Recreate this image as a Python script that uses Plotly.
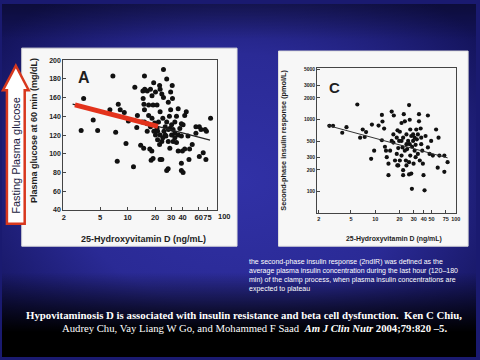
import base64
import numpy as np
import plotly.graph_objects as go

W, H = 480, 360

# ---------------- data: panel A (plasma glucose at 60 min) ----------------
a_vitd = [6.9, 3.3, 3.1, 4.2, 4.7, 6.4, 7.4, 7.9, 8.3, 7.7, 9.2, 10.2, 9.6, 11.6, 12, 12.8,
          12.6, 13.9, 14.5, 15.3, 14.7, 15.4, 16.4, 17.8, 18.5, 14.8, 15.1, 17, 19, 15.3, 17,
          15.3, 16.4, 17.8, 16.4, 17.5, 18.4, 18.1, 19, 24.7, 22.4, 23.7, 24.7, 26.8, 30.8,
          22.7, 21.8, 21, 20.2, 21.3, 22.4, 23.7, 25, 26.3, 27.9, 29, 26.8, 28.7, 29.6, 31,
          30.3, 31.5, 30.3, 32.9, 34.3, 31.5, 29, 28, 25.8, 24.3, 22.7, 23.7, 26.8, 27.8,
          35.8, 34.3, 32.9, 37.3, 38.8, 43.9, 42.2, 40.5, 38.8, 45.8, 35.8, 39.8, 42.2, 38.8,
          38.8, 40.5, 47.7, 47, 51, 56, 56, 63.6, 70.7, 73, 61, 67.3, 72, 81, 61, 19.4, 19.8,
          18.5, 21.3, 27.9, 29.6, 21, 24.3, 25.8, 22.7, 32.9, 35.8, 15, 22.7, 19.3, 20.2]
a_glucose = [183, 159, 125, 136, 125, 147, 123, 153, 147, 92, 144, 135, 111, 86, 171, 141,
             128, 109, 134, 183, 167, 169, 167, 169, 162, 159, 153, 152, 152, 147, 141,
             134, 132, 129, 124, 105, 103, 93, 95, 190, 173, 164, 160, 180, 173,
             145, 134, 127, 120, 115, 110, 113, 124, 119, 113, 106, 134, 140, 147, 159,
             131, 126, 120, 117, 112, 113, 127, 126, 120, 117, 94, 94, 82, 84,
             148, 140, 134, 127, 132, 145, 141, 131, 119, 119, 103, 103, 105, 90,
             82, 80, 105, 94, 110, 122, 129, 126, 126, 124, 97, 101, 94, 138, 129, 124, 133,
             138, 124, 155, 166, 152, 138, 129, 120, 122, 120, 106, 169, 176, 166]
# fitted line A (ends), red highlighted segment
a_fit_x = [2.5, 80]
a_fit_y = [153.0, 114.6]
a_red_x = [2.65, 21.5]
a_red_y = [152.3, 129.2]
a_xticks = [2, 5, 10, 20, 30, 40, 60, 75]
a_yticks = [40, 60, 80, 100, 120, 140, 160, 180, 200]

# ---------------- data: panel C (second-phase insulin response) ----------------
c_vitd = [2.7, 3.0, 3.9, 4.4, 6.0, 7.0, 6.5, 7.7, 7.4, 9.1, 8.9, 9.7, 11, 12.1, 12.3, 12.9,
          12.1, 13.2, 13.6, 13.9, 14.6, 14.6, 16, 17, 16.8, 16.8, 18.5, 18.9, 20.2, 19.8,
          19.3, 18.5, 17.6, 18.8, 21.2, 22.6, 23.3, 22.2, 21.8, 21.2, 22.2, 22.2, 24.4,
          25.6, 24.9, 24, 26.3, 26.8, 27.2, 28, 29.5, 28.7, 27.2, 26.3, 26.3, 28.5, 29.9,
          30.8, 31.7, 32.8, 32.3, 33.8, 34.9, 36.6, 37.2, 38.3, 39, 39.7, 40.9, 42.1, 45,
          45, 47.2, 49.4, 51.8, 56.9, 61, 62.5, 59.6, 72, 72, 79, 34.9, 29.5, 30.8, 24.4,
          23.3, 20.2, 19.3, 24.4, 28, 35.7, 16, 15.3, 21.2, 33.8, 37.2, 26.8, 31.7]
c_insulin = [820, 820, 656, 783, 1620, 728, 561, 670, 573, 851, 285, 370, 824, 1160, 940, 750,
             516, 419, 370, 300, 244, 169, 1290, 1140, 622, 479, 561, 708, 677, 505,
             402, 333, 270, 231, 896, 1190, 944, 561, 410, 316, 198, 169, 622,
             505, 389, 270, 1590, 995, 728, 591, 505, 419, 316, 256, 173, 109, 244,
             370, 446, 532, 728, 333, 1190, 751, 455, 370, 244, 169, 104, 591, 1140,
             410, 333, 505, 316, 728, 561, 316, 215, 316, 188, 256, 944, 622, 561, 455,
             370, 270, 231, 231, 178, 270, 505, 370, 505, 622, 561, 455, 300]
c_fit_x = [2.56, 79]
c_fit_y = [830, 294]
c_xticks = [2, 5, 10, 20, 30, 40, 50, 75, 100]
c_yticks = [50, 100, 200, 300, 500, 1000, 2000, 3000, 5000]

caption_lines = [
    "the second-phase insulin response (2ndIR) was defined as the",
    "average plasma insulin concentration during the last hour (120\u2013180",
    "min) of the clamp process, when plasma insulin concentrations are",
    "expected to plateau",
]
cite_line1 = "<b>Hypovitaminosis D is associated with insulin resistance and beta cell dysfunction.  Ken C Chiu,</b>"
cite_line2 = "Audrey Chu, Vay Liang W Go, and Mohammed F Saad  <b><i>Am J Clin Nutr</i> 2004;79:820 \u20135.</b>"


def X(px):
    return px / W


def Y(py):
    return 1 - py / H


# background gradient as svg image
svg = f"""<svg xmlns='http://www.w3.org/2000/svg' width='{W}' height='{H}' preserveAspectRatio='none'>
<defs>
<radialGradient id='r' cx='50%' cy='50%' r='65%'>
<stop offset='0' stop-color='#3131a6'/>
<stop offset='0.55' stop-color='#2a2a95'/>
<stop offset='1' stop-color='#13135a'/>
</radialGradient>
<linearGradient id='l' x1='0' y1='0' x2='0' y2='1'>
<stop offset='0' stop-color='#000' stop-opacity='0.35'/>
<stop offset='0.1' stop-color='#000' stop-opacity='0'/>
<stop offset='0.76' stop-color='#000' stop-opacity='0'/>
<stop offset='0.86' stop-color='#000' stop-opacity='0.6'/>
<stop offset='0.93' stop-color='#000' stop-opacity='1'/>
<stop offset='1' stop-color='#000' stop-opacity='1'/>
</linearGradient>
</defs>
<rect width='{W}' height='{H}' fill='url(#r)'/>
<rect width='{W}' height='{H}' fill='url(#l)'/>
</svg>"""
bg_uri = "data:image/svg+xml;base64," + base64.b64encode(svg.encode()).decode()

fig = go.Figure()

# panel A
fig.add_trace(go.Scatter(x=a_vitd, y=a_glucose, mode="markers", xaxis="x", yaxis="y",
                         marker=dict(color="#111111", size=5), showlegend=False))
fig.add_trace(go.Scatter(x=a_fit_x, y=a_fit_y, mode="lines", xaxis="x", yaxis="y",
                         line=dict(color="#222222", width=1.2), showlegend=False))
fig.add_trace(go.Scatter(x=a_red_x, y=a_red_y, mode="lines", xaxis="x", yaxis="y",
                         line=dict(color="#e3331c", width=5), showlegend=False))
# panel C
fig.add_trace(go.Scatter(x=c_vitd, y=c_insulin, mode="markers", xaxis="x2", yaxis="y2",
                         marker=dict(color="#111111", size=4.2), showlegend=False))
fig.add_trace(go.Scatter(x=c_fit_x, y=c_fit_y, mode="lines", xaxis="x2", yaxis="y2",
                         line=dict(color="#333333", width=1), showlegend=False))

axis_common = dict(showgrid=False, zeroline=False, showline=True, linecolor="#444444",
                   linewidth=1, mirror=True, ticks="inside", ticklen=3, tickcolor="#444444",
                   tickangle=0)

fig.update_layout(
    width=W, height=H, margin=dict(l=0, r=0, t=0, b=0),
    paper_bgcolor="#1a1a70", plot_bgcolor="#f7f7f7",
    xaxis=dict(type="log", domain=[X(62), X(218)], range=[0.295, 1.982], anchor="y",
               tickvals=a_xticks, ticktext=[str(v) for v in a_xticks],
               tickfont=dict(family="Liberation Sans", size=7.5, color="#222", weight="bold"),
               **axis_common),
    yaxis=dict(domain=[Y(210), Y(57.3)], range=[40, 200], anchor="x",
               tickvals=a_yticks, ticktext=[str(v) for v in a_yticks],
               tickfont=dict(family="Liberation Sans", size=7, color="#222", weight="bold"),
               **axis_common),
    xaxis2=dict(type="log", domain=[X(319), X(460)], range=[0.278, 2.005], anchor="y2",
                tickvals=c_xticks, ticktext=[str(v) for v in c_xticks],
                tickfont=dict(family="Liberation Sans", size=5.5, color="#222", weight="bold"),
                **axis_common),
    yaxis2=dict(type="log", domain=[Y(213.3), Y(65)], range=[1.70, 3.72], anchor="x2",
                tickvals=c_yticks, ticktext=[str(v) for v in c_yticks],
                tickfont=dict(family="Liberation Sans", size=5, color="#222", weight="bold"),
                **axis_common),
)

fig.add_layout_image(dict(source=bg_uri, xref="paper", yref="paper", x=0, y=1,
                          sizex=1, sizey=1, sizing="stretch", layer="below"))

# white panels
fig.add_shape(type="rect", xref="paper", yref="paper", x0=X(20), x1=X(238), y0=Y(247), y1=Y(45),
              fillcolor="#f7f7f7", line=dict(color="#dddddd", width=1), layer="below")
fig.add_shape(type="rect", xref="paper", yref="paper", x0=X(280), x1=X(472), y0=Y(247), y1=Y(48),
              fillcolor="#f7f7f7", line=dict(color="#dddddd", width=1), layer="below")

# arrow overlay
pts = [(14, 63), (27, 88), (23, 88), (23, 224), (5, 224), (5, 88), (1, 88)]
path = "M " + " L ".join(f"{X(px):.4f},{Y(py):.4f}" for px, py in pts) + " Z"
fig.add_shape(type="path", xref="paper", yref="paper", path=path, fillcolor="#ffffff",
              line=dict(color="#d8381e", width=2.5), layer="above")

ann = []
lbl = dict(family="Liberation Sans", color="#1e1e1e")
P = dict(xref="paper", yref="paper", showarrow=False, xanchor="center", yanchor="middle")
ann.append(dict(x=X(14), y=Y(154), text="Fasting Plasma glucose", textangle=-90,
                font=dict(family="Liberation Sans", size=11, color="#1a1a40"), **P))
ann.append(dict(x=X(33), y=Y(129), text="<b>Plasma glucose at 60 min (mg/dL)</b>", textangle=-90,
                font=dict(size=9, **lbl), **P))
ann.append(dict(x=X(143), y=Y(240), text="<b>25-Hydroxyvitamin D (ng/mL)</b>",
                font=dict(size=9, **lbl), **P))
ann.append(dict(x=X(225), y=Y(216.5), text="<b>100</b>", font=dict(size=7.5, **lbl), **P))
ann.append(dict(x=X(83), y=Y(75), text="<b>A</b>", font=dict(size=16, **lbl), **P))
ann.append(dict(x=X(285), y=Y(139), text="<b>Second-phase insulin response (pmol/L)</b>", textangle=-90,
                font=dict(size=7.3, **lbl), **P))
ann.append(dict(x=X(397), y=Y(240), text="<b>25-Hydroxyvitamin D (ng/mL)</b>",
                font=dict(size=6.9, **lbl), **P))
ann.append(dict(x=X(337), y=Y(85), text="<b>C</b>", font=dict(size=15, **lbl), **P))

PL = dict(xref="paper", yref="paper", showarrow=False, xanchor="left", yanchor="middle")
for i, line in enumerate(caption_lines):
    ann.append(dict(x=X(248), y=Y(263 + 9.3 * i), text=line,
                    font=dict(family="Liberation Sans", size=7, color="#ffffff"), **PL))

ann.append(dict(x=X(22), y=Y(317), text=cite_line1,
                font=dict(family="Liberation Serif", size=10.8, color="#ffffff"), **PL))
ann.append(dict(x=X(255.5), y=Y(330), text=cite_line2,
                font=dict(family="Liberation Serif", size=10.7, color="#ffffff"), **P))
fig.update_layout(annotations=ann)

fig.write_html("out.html", config={"displayModeBar": False},
               post_script="document.body.style.margin='0';")
